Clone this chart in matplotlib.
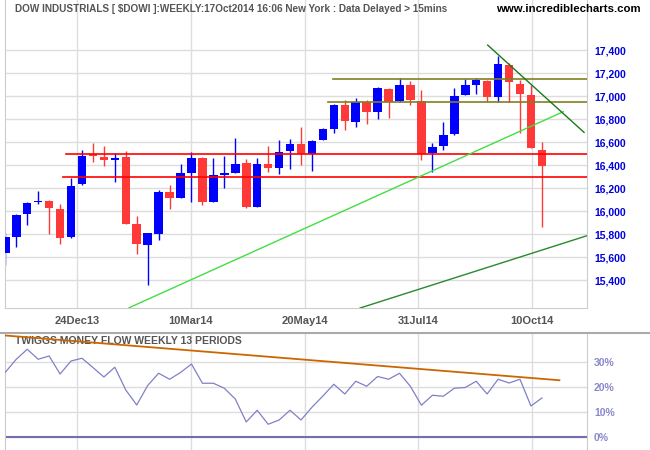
import numpy as np
import matplotlib.pyplot as plt
from matplotlib.lines import Line2D

plt.rcParams['font.family'] = ['Liberation Sans', 'DejaVu Sans']

# weekly candles, 8Nov13 .. 17Oct14
opens = [15632, 15771, 15971, 16075, 16090, 16020, 15771, 16232, 16496, 16470,
         16441, 16467, 15884, 15704, 15800, 16162, 16113, 16330, 16458, 16078,
         16310, 16327, 16420, 16032, 16411, 16371, 16519, 16585, 16496, 16614,
         16716, 16925, 16771, 16951, 16858, 17064, 16954, 17099, 16959, 16501,
         16562, 16667, 17012, 17098, 17133, 16988, 17272, 17104, 17012, 16533]
highs = [15806, 15975, 16080, 16177, 16098, 16064, 16290, 16533, 16591, 16568,
         16504, 16525, 15953, 15810, 16180, 16229, 16406, 16510, 16467, 16458,
         16475, 16638, 16455, 16464, 16568, 16620, 16629, 16733, 16620, 16725,
         16930, 16968, 16980, 16968, 17075, 17070, 17154, 17130, 17052, 16594,
         16771, 17070, 17151, 17159, 17142, 17351, 17287, 17142, 17098, 16600]
lows = [15527, 15684, 15875, 16058, 15797, 15710, 15765, 16225, 16423, 16388,
        16252, 15887, 15626, 15356, 15748, 16017, 16113, 16075, 16052, 16078,
        16200, 16327, 16023, 16032, 16336, 16319, 16362, 16403, 16345, 16614,
        16675, 16707, 16727, 16754, 16803, 16806, 16950, 16919, 16440, 16339,
        16527, 16660, 17008, 17014, 16951, 16951, 16951, 16675, 16545, 15858]
closes = [15771, 15968, 16072, 16090, 16023, 15762, 16220, 16481, 16475, 16441,
          16461, 15887, 15713, 15806, 16162, 16113, 16327, 16458, 16078, 16310,
          16327, 16409, 16032, 16411, 16371, 16516, 16585, 16498, 16612, 16716,
          16925, 16780, 16951, 16858, 17072, 16948, 17099, 16962, 16496, 16559,
          16661, 17003, 17098, 17142, 16988, 17281, 17119, 17014, 16545, 16388]

# Twiggs money flow (%)
tmf = [26.0, 31.2, 35.2, 31.2, 32.5, 25.3, 30.5, 31.6, 27.9, 24.1,
       28.0, 18.9, 12.9, 20.7, 25.6, 23.2, 25.9, 29.3, 21.6, 21.6,
       19.6, 15.3, 6.1, 10.8, 5.2, 6.9, 10.8, 6.9, 12.0, 16.5,
       21.2, 17.3, 22.4, 20.4, 24.3, 23.2, 25.6, 20.3, 12.8, 16.8,
       16.4, 19.6, 19.9, 22.4, 17.3, 23.2, 21.7, 23.2, 12.5, 15.7]

date_labels = ['24Dec13', '10Mar14', '20May14', '31Jul14', '10Oct14']
date_pos = [6.52, 16.94, 27.35, 37.69, 48.07]
price_ticks = [15400, 15600, 15800, 16000, 16200, 16400, 16600, 16800, 17000, 17200, 17400]
tmf_ticks = [0, 10, 20, 30]

# horizontal levels: (start week, price)
red_levels = [(5.5, 16495), (5.3, 16300)]
olive_levels = [(29.95, 17145), (29.5, 16945)]
# trendlines: (x0, y0, x1, y1)
up_trend = (11.3, 15159, 50.96, 16864)
low_trend = (32.4, 15157, 53.1, 15785)
down_trend = (44.05, 17443, 52.85, 16684)
tmf_trend = (0, 40.7, 50.6, 22.8)

x = np.arange(len(opens))
o = np.array(opens)
c = np.array(closes)
colors = np.where(c >= o, '#0000ff', '#ff3838')

fig = plt.figure(figsize=(6.5, 4.5), dpi=100)
ax = fig.add_axes([5/650, 1-308/450, 582/650, 308/450])
ax.set_xlim(-0.03, 53.12)
ax.set_ylim(15157, 17835)

ax.vlines(x, lows, highs, colors=colors, lw=1, zorder=2)
ax.bar(x, np.maximum(np.abs(c - o), 10), bottom=np.minimum(o, c), width=0.78, color=colors, zorder=3)

for x0, lvl in red_levels:
    ax.plot([x0, 53.12], [lvl, lvl], color='#ff0000', lw=1.2, zorder=4)
for x0, lvl in olive_levels:
    ax.plot([x0, 53.12], [lvl, lvl], color='#808020', lw=1.2, zorder=4)
ax.plot(up_trend[::2], up_trend[1::2], color='#44dd44', lw=1, zorder=4)
ax.plot(low_trend[::2], low_trend[1::2], color='#2a8a2a', lw=1, zorder=4)
ax.plot(down_trend[::2], down_trend[1::2], color='#1a7a1a', lw=1, zorder=4)

ax.set_yticks(price_ticks)
ax.set_yticklabels([f'{p:,}' for p in price_ticks])
ax.set_xticks(date_pos)
ax.set_xticklabels(date_labels)
ax.yaxis.tick_right()
ax.tick_params(axis='y', length=0, pad=5, labelcolor='#0000dd', labelsize=7.5)
ax.tick_params(axis='x', length=0, pad=6, labelcolor='#555555', labelsize=8)
for lab in ax.get_xticklabels() + ax.get_yticklabels():
    lab.set_fontweight('bold')
ax.grid(color='#dddddd', lw=1)
ax.set_axisbelow(True)
ax.spines['top'].set_visible(False)
for s in ['left', 'right', 'bottom']:
    ax.spines[s].set_color('#cccccc')

fig.text(15/650, 1-9/450, 'DOW INDUSTRIALS [ $DOWI ]:WEEKLY:17Oct2014 16:06 New York : Data Delayed > 15mins',
         fontsize=7.2, fontweight='bold', color='#555555', va='center')
fig.text(496/650, 1-9/450, 'www.incrediblecharts.com', fontsize=8.2, fontweight='bold',
         color='black', va='center')

# indicator panel
fig.add_artist(Line2D([0, 1], [1-333/450, 1-333/450], color='#aaaaaa', lw=1.5))
ax2 = fig.add_axes([5/650, 0, 582/650, (450-334)/450])
ax2.set_xlim(-0.03, 53.12)
ax2.set_ylim(-5.1, 41.3)
ax2.plot(x, tmf, color='#8080c8', lw=0.9, zorder=3)
ax2.plot(tmf_trend[::2], tmf_trend[1::2], color='#cc6600', lw=1.3, zorder=4)
ax2.axhline(0, color='#7070b0', lw=1.5, zorder=2)
ax2.set_yticks(tmf_ticks)
ax2.set_yticklabels([f'{t}%' for t in tmf_ticks])
ax2.set_xticks(date_pos)
ax2.set_xticklabels([])
ax2.yaxis.tick_right()
ax2.tick_params(axis='y', length=0, pad=5, labelcolor='#8888cc', labelsize=7.5)
ax2.tick_params(axis='x', length=0)
for lab in ax2.get_yticklabels():
    lab.set_fontweight('bold')
ax2.grid(color='#dddddd', lw=1)
ax2.set_axisbelow(True)
for s in ['top', 'bottom']:
    ax2.spines[s].set_visible(False)
for s in ['left', 'right']:
    ax2.spines[s].set_color('#cccccc')
ax2.text(15/650, 1-341/450, 'TWIGGS MONEY FLOW WEEKLY 13 PERIODS', transform=fig.transFigure,
         fontsize=7.5, fontweight='bold', color='#555555', va='center', zorder=1)

plt.savefig('out.png', dpi=100)
plt.close()
